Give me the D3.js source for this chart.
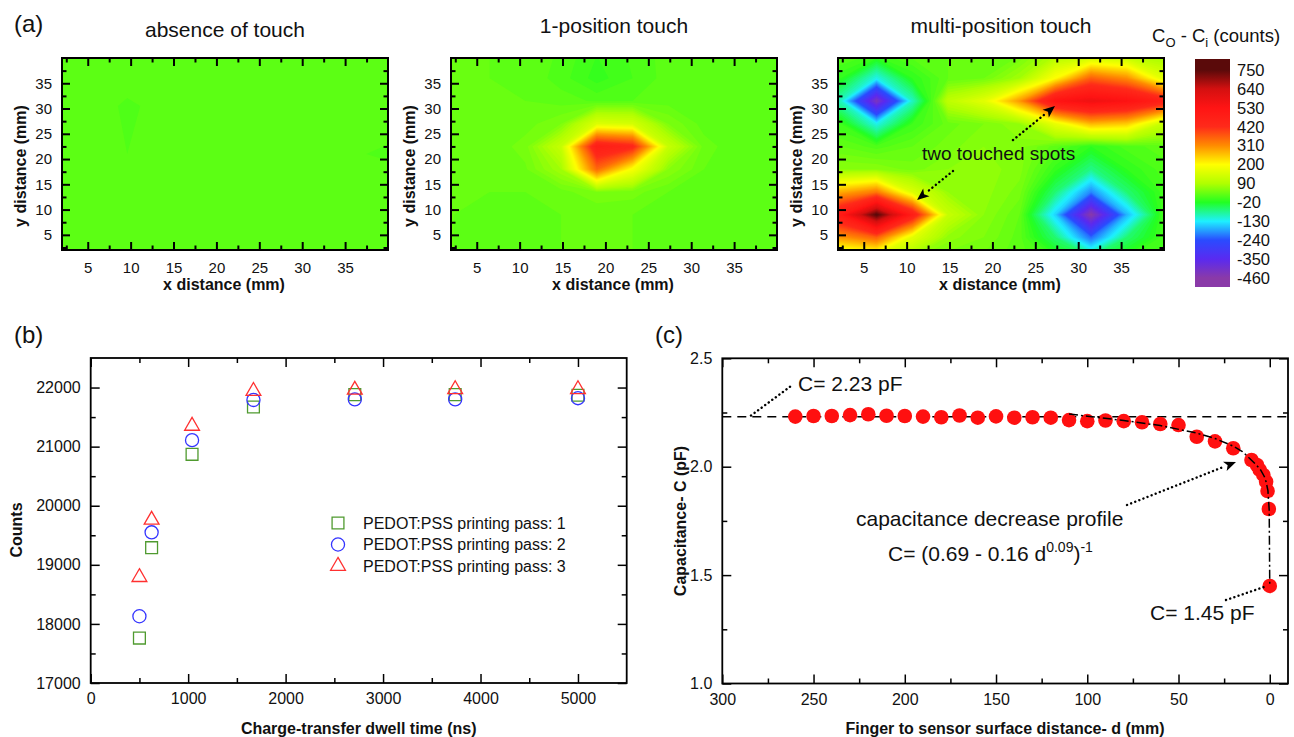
<!DOCTYPE html>
<html>
<head>
<meta charset="utf-8">
<script src="https://cdn.jsdelivr.net/npm/d3@7/dist/d3.min.js"></script>
<style>
  body { margin: 0; background: #fff; }
  svg text { font-family: Arial, "Liberation Sans", Helvetica, sans-serif; fill: #111; }
  .lab { font-weight: bold; font-size: 16px; }
</style>
</head>
<body>
<script>
// ---------------- data ----------------
// colour scale of the contour maps (counts)
var colorLevels = [-460, -350, -240, -130, -20, 90, 200, 310, 420, 530, 640, 750];
var colorHex = ['#8a3aa8', '#5a2af0', '#2a4bff', '#1ef0ff', '#22ff22', '#b0ff00',
                '#ffff00', '#ff8c00', '#ff2a1a', '#ff1414', '#d41010', '#5a0a0a'];

// sensor grid (mm), rows listed from top to bottom
var gridX = [2.33, 6.5, 10.67, 14.83, 19, 23.17, 27.33, 31.5, 35.67, 39.83];
var gridY = [40.5, 36, 31.5, 27, 22.5, 18, 13.5, 9, 4.5, 0];
var absX = [2, 9.6, 17.2, 24.8, 32.4, 40];
var absY = [40, 30.5, 21, 11.5, 2];

var absenceGrid = [
  [28, 25, 28, 30, 26, 28],
  [26, 19, 24, 26, 21, 24],
  [28, 20, 24, 26, 22, 19],
  [28, 26, 30, 20, 24, 26],
  [28, 28, 30, 24, 28, 28]
];

var onePositionGrid = [
  [30, 30, 28, 18, 0, 12, 25, 25, 22, 22],
  [30, 30, 28, 15, -5, 10, 25, 25, 22, 20],
  [30, 30, 30, 25, 18, 20, 25, 25, 22, 20],
  [30, 30, 35, 50, 150, 140, 50, 25, 22, 20],
  [30, 32, 45, 120, 480, 440, 120, 35, 22, 20],
  [30, 30, 38, 80, 350, 190, 60, 30, 22, 20],
  [30, 30, 30, 35, 50, 45, 30, 25, 22, 20],
  [30, 28, 28, 30, 30, 30, 28, 25, 22, 20],
  [30, 28, 28, 30, 30, 30, 25, 22, 22, 20],
  [30, 28, 28, 30, 30, 30, 25, 22, 22, 20]
];

var multiPositionGrid = [
  [25, 5, 25, 30, 30, 40, 90, 110, 100, 70],
  [-10, -120, -10, 30, 40, 80, 200, 360, 310, 160],
  [-100, -430, -100, 110, 160, 300, 530, 570, 540, 470],
  [0, -120, 0, 35, 50, 70, 170, 270, 250, 120],
  [30, 15, 30, 45, 60, 55, 25, -10, 15, 25],
  [60, 60, 45, 60, 65, 55, -5, -70, -10, 15],
  [280, 330, 150, 70, 65, 45, -60, -200, -60, 5],
  [500, 760, 480, 120, 60, 30, -150, -460, -170, 5],
  [300, 360, 160, 65, 50, 25, -60, -220, -60, 5],
  [100, 100, 60, 40, 35, 25, 5, -30, 5, 15]
];
var colorbarTicks = [750, 640, 530, 420, 310, 200, 90, -20, -130, -240, -350, -460];

// panel (b)
var dwellTime = [500, 625, 1040, 1670, 2710, 3740, 5000];
var pass1 = [17760, 19290, 20870, 21670, 21880, 21880, 21870];
var pass2 = [18130, 19550, 21110, 21790, 21800, 21800, 21820];
var pass3 = [18790, 19760, 21350, 21940, 21960, 21970, 21970];

// panel (c)
var fingerDist = [260, 250, 240, 230, 220, 210, 200, 190, 180, 170, 160, 150, 140, 130, 120,
                  110, 100, 90, 80, 70, 60, 50, 40, 30, 20, 10, 7, 5.5, 3.5, 2, 1.2, 0.5, 0];
var capacitance = [2.231, 2.234, 2.234, 2.238, 2.242, 2.235, 2.234, 2.231, 2.228, 2.236, 2.226, 2.232, 2.226, 2.228, 2.226,
                   2.215, 2.21, 2.213, 2.21, 2.205, 2.197, 2.192, 2.138, 2.117, 2.085, 2.031, 2.008, 1.985, 1.962, 1.931, 1.888, 1.805, 1.45];
var fitDist = [110, 100, 80, 60, 40, 30, 20, 15, 10, 7, 5, 3, 2, 1, 0.3, 0];
var fitCap = [2.243, 2.233, 2.213, 2.19, 2.155, 2.13, 2.095, 2.07, 2.03, 2.005, 1.985, 1.955, 1.93, 1.89, 1.8, 1.45];
var refCap = 2.23;

// ---------------- svg ----------------
var svg = d3.select('body').append('svg')
    .attr('width', 1294)
    .attr('height', 737);
svg.append('rect').attr('width', 1294).attr('height', 737).attr('fill', '#fff');
var defs = svg.append('defs');

var color = d3.scaleLinear().domain(colorLevels).range(colorHex).clamp(true);
var levels = d3.range(-470, 780, 10);

// ticks on all four sides, pointing inwards
function frame(x, y, o) {
    var g = svg.append('g');
    var left = x.range()[0], right = x.range()[1], bottom = y.range()[0], top = y.range()[1];
    var sides = [
        [d3.axisBottom, x, 0, bottom, o.xMajor, o.xMinor, o.fmtX, o.padX],
        [d3.axisTop, x, 0, top, o.xMajor, o.xMinor, null, 0],
        [d3.axisLeft, y, left, 0, o.yMajor, o.yMinor, o.fmtY, o.padY],
        [d3.axisRight, y, right, 0, o.yMajor, o.yMinor, null, 0]
    ];
    sides.forEach(function (s) {
        [[s[4], o.major, s[6]], [s[5], o.minor, null]].forEach(function (t) {
            var a = g.append('g')
                .attr('transform', 'translate(' + s[2] + ',' + s[3] + ')')
                .call(s[0](s[1]).tickValues(t[0]).tickSize(-t[1]).tickPadding(s[7])
                    .tickFormat(t[2] || function () { return ''; }));
            a.select('.domain').remove();
            a.attr('font-size', o.fs);
            a.selectAll('line').attr('stroke-width', o.tw).attr('stroke', '#000');
        });
    });
    g.append('rect')
        .attr('x', left).attr('y', top)
        .attr('width', right - left).attr('height', bottom - top)
        .attr('fill', 'none').attr('stroke', '#000').attr('stroke-width', o.fw);
}

///////////////////////////////////////////////////////////////
// (a) contour maps
///////////////////////////////////////////////////////////////
var heatMajor = [5, 10, 15, 20, 25, 30, 35];
var heatMinor = [2.5, 7.5, 12.5, 17.5, 22.5, 27.5, 32.5, 37.5];

function heatPanel(left, cols, rows, grid, title, titleY) {
    var x = d3.scaleLinear().domain([2, 40]).range([left, left + 326]);
    var y = d3.scaleLinear().domain([2, 40]).range([250, 58]);
    var nx = cols.length, ny = rows.length;
    var sx = (cols[nx - 1] - cols[0]) / (nx - 1);
    var sy = (rows[0] - rows[ny - 1]) / (ny - 1);
    var id = 'clip' + Math.round(left);

    defs.append('clipPath').attr('id', id).append('rect')
        .attr('x', left).attr('y', 58).attr('width', 326).attr('height', 192);

    var proj = d3.geoTransform({
        point: function (cx, cy) {
            this.stream.point(x(cols[0] + (cx - 0.5) * sx), y(rows[0] - (cy - 0.5) * sy));
        }
    });
    var bands = d3.contours().size([nx, ny]).thresholds(levels)([].concat.apply([], grid));

    svg.append('g').attr('clip-path', 'url(#' + id + ')')
        .selectAll('path')
        .data(bands)
        .join('path')
        .attr('d', d3.geoPath(proj))
        .attr('fill', function (d) { return color(d.value + 5); });

    frame(x, y, {
        xMajor: heatMajor, xMinor: heatMinor, yMajor: heatMajor, yMinor: heatMinor,
        fmtX: d3.format('d'), fmtY: d3.format('d'),
        major: 8, minor: 4.5, tw: 2, fw: 2, fs: 15, padX: 12, padY: 10
    });

    svg.append('text')
        .attr('x', left + 163).attr('y', titleY)
        .attr('text-anchor', 'middle').attr('font-size', 21)
        .text(title);
    svg.append('text')
        .attr('class', 'lab')
        .attr('x', left + 162).attr('y', 290)
        .attr('text-anchor', 'middle')
        .text('x distance (mm)');
    svg.append('text')
        .attr('class', 'lab')
        .attr('transform', 'translate(' + (left - 42) + ',166) rotate(-90)')
        .attr('text-anchor', 'middle').attr('dy', '0.35em')
        .text('y distance (mm)');
}

heatPanel(62, absX, absY, absenceGrid, 'absence of touch', 37);
heatPanel(451, gridX, gridY, onePositionGrid, '1-position touch', 33);
heatPanel(838, gridX, gridY, multiPositionGrid, 'multi-position touch', 33);

// colour bar
var cb = d3.scaleLinear().domain([-460, 750]).range([278, 70]);
var grad = defs.append('linearGradient').attr('id', 'cbar')
    .attr('x1', 0).attr('x2', 0).attr('y1', 0).attr('y2', 1);
grad.selectAll('stop')
    .data(colorLevels.slice().reverse())
    .join('stop')
    .attr('offset', function (d) { return (cb(d) - 59) / 228; })
    .attr('stop-color', function (d) { return color(d); });
svg.append('rect')
    .attr('x', 1195).attr('y', 59).attr('width', 35).attr('height', 228)
    .attr('fill', 'url(#cbar)');
svg.append('g').selectAll('text')
    .data(colorbarTicks)
    .join('text')
    .attr('x', 1237).attr('y', function (d) { return cb(d); })
    .attr('dy', '0.35em').attr('font-size', 16.5)
    .text(function (d) { return d; });

var cbt = svg.append('text').attr('x', 1152).attr('y', 42).attr('font-size', 18.5);
cbt.append('tspan').text('C');
cbt.append('tspan').attr('dy', 5).attr('font-size', 13).text('O');
cbt.append('tspan').attr('dy', -5).text(' - C');
cbt.append('tspan').attr('dy', 5).attr('font-size', 13).text('i');
cbt.append('tspan').attr('dy', -5).text(' (counts)');

// dotted annotation arrows
function dotArrow(x1, y1, x2, y2, head) {
    var ang = Math.atan2(y2 - y1, x2 - x1), L = head ? 12 : 0, w = 5;
    var bx = x2 - L * Math.cos(ang), by = y2 - L * Math.sin(ang);
    svg.append('line')
        .attr('x1', x1).attr('y1', y1).attr('x2', bx).attr('y2', by)
        .attr('stroke', '#000').attr('stroke-width', 2.4)
        .attr('stroke-linecap', 'round').attr('stroke-dasharray', '0.1,4.3');
    if (head) {
        svg.append('path')
            .attr('d', 'M' + x2 + ',' + y2 +
                'L' + (bx + w * Math.sin(ang)) + ',' + (by - w * Math.cos(ang)) +
                'L' + (bx + 3 * Math.cos(ang)) + ',' + (by + 3 * Math.sin(ang)) +
                'L' + (bx - w * Math.sin(ang)) + ',' + (by + w * Math.cos(ang)) + 'Z')
            .attr('fill', '#000');
    }
}

svg.append('text').attr('x', 922).attr('y', 160).attr('font-size', 19).text('two touched spots');
dotArrow(1013, 140, 1055, 106, true);
dotArrow(953, 171, 917, 200, true);

svg.append('text').attr('x', 14).attr('y', 32).attr('font-size', 24).text('(a)');
svg.append('text').attr('x', 14).attr('y', 343).attr('font-size', 24).text('(b)');
svg.append('text').attr('x', 655).attr('y', 343).attr('font-size', 24).text('(c)');

///////////////////////////////////////////////////////////////
// (b) counts vs dwell time
///////////////////////////////////////////////////////////////
var xB = d3.scaleLinear().domain([0, 5500]).range([90.7, 626.7]);
var yB = d3.scaleLinear().domain([17000, 22500]).range([683, 358]);

frame(xB, yB, {
    xMajor: [0, 1000, 2000, 3000, 4000, 5000], xMinor: [500, 1500, 2500, 3500, 4500],
    yMajor: [17000, 18000, 19000, 20000, 21000, 22000],
    yMinor: [17500, 18500, 19500, 20500, 21500],
    fmtX: d3.format('d'), fmtY: d3.format('d'),
    major: 9, minor: 5, tw: 1.5, fw: 1.8, fs: 16, padX: 10, padY: 10
});

var series = [
    { vals: pass1, sym: d3.symbolSquare, size: 140, col: '#4f9a2f', name: 'PEDOT:PSS printing pass: 1' },
    { vals: pass2, sym: d3.symbolCircle, size: 135, col: '#3434ff', name: 'PEDOT:PSS printing pass: 2' },
    { vals: pass3, sym: d3.symbolTriangle, size: 95, col: '#ff3030', name: 'PEDOT:PSS printing pass: 3' }
];

series.forEach(function (s, k) {
    svg.append('g').selectAll('path')
        .data(s.vals)
        .join('path')
        .attr('transform', function (d, i) { return 'translate(' + xB(dwellTime[i]) + ',' + yB(d) + ')'; })
        .attr('d', d3.symbol(s.sym, s.size))
        .attr('fill', 'none').attr('stroke', s.col).attr('stroke-width', 1.3);

    var ly = 523 + k * 21.5;
    svg.append('path')
        .attr('transform', 'translate(338,' + ly + ')')
        .attr('d', d3.symbol(s.sym, s.size))
        .attr('fill', 'none').attr('stroke', s.col).attr('stroke-width', 1.3);
    svg.append('text')
        .attr('x', 363).attr('y', ly).attr('dy', '0.35em')
        .attr('font-size', 16)
        .text(s.name);
});

svg.append('text').attr('class', 'lab')
    .attr('x', 358.7).attr('y', 734).attr('text-anchor', 'middle')
    .text('Charge-transfer dwell time (ns)');
svg.append('text').attr('class', 'lab')
    .attr('transform', 'translate(16,530) rotate(-90)')
    .attr('text-anchor', 'middle').attr('dy', '0.35em')
    .text('Counts');

///////////////////////////////////////////////////////////////
// (c) capacitance vs distance
///////////////////////////////////////////////////////////////
var xC = d3.scaleLinear().domain([300, -10]).range([722.3, 1288]);
var yC = d3.scaleLinear().domain([1, 2.5]).range([683.5, 358.3]);

frame(xC, yC, {
    xMajor: [300, 250, 200, 150, 100, 50, 0], xMinor: [275, 225, 175, 125, 75, 25],
    yMajor: [1, 1.5, 2, 2.5], yMinor: [1.25, 1.75, 2.25],
    fmtX: d3.format('d'), fmtY: d3.format('.1f'),
    major: 9, minor: 5, tw: 1.5, fw: 1.8, fs: 16, padX: 10, padY: 10
});

svg.append('line')
    .attr('x1', xC(300)).attr('x2', xC(-10))
    .attr('y1', yC(refCap)).attr('y2', yC(refCap))
    .attr('stroke', '#000').attr('stroke-width', 1.5).attr('stroke-dasharray', '9,6');

svg.append('g').selectAll('circle')
    .data(fingerDist)
    .join('circle')
    .attr('cx', function (d) { return xC(d); })
    .attr('cy', function (d, i) { return yC(capacitance[i]); })
    .attr('r', 7.3)
    .attr('fill', '#ff1010');

svg.append('path')
    .datum(fitDist)
    .attr('d', d3.line().x(function (d) { return xC(d); }).y(function (d, i) { return yC(fitCap[i]); }))
    .attr('fill', 'none').attr('stroke', '#000').attr('stroke-width', 1.5)
    .attr('stroke-dasharray', '9,3,2,3');

svg.append('text').attr('x', 798).attr('y', 391).attr('font-size', 21).text('C= 2.23 pF');
dotArrow(751, 415.5, 791, 386, false);

svg.append('text').attr('x', 856).attr('y', 526).attr('font-size', 21).text('capacitance decrease profile');
var ft = svg.append('text').attr('x', 888).attr('y', 561).attr('font-size', 21);
ft.append('tspan').text('C= (0.69 - 0.16 d');
ft.append('tspan').attr('dy', -9).attr('font-size', 14).text('0.09');
ft.append('tspan').attr('dy', 9).text(')');
ft.append('tspan').attr('dy', -9).attr('font-size', 14).text('-1');
dotArrow(1127, 505, 1236, 462, true);

svg.append('text').attr('x', 1150).attr('y', 620).attr('font-size', 21).text('C= 1.45 pF');
dotArrow(1226, 600, 1264, 587, false);

svg.append('text').attr('class', 'lab')
    .attr('x', 1005).attr('y', 734).attr('text-anchor', 'middle')
    .text('Finger to sensor surface distance- d (mm)');
svg.append('text').attr('class', 'lab')
    .attr('transform', 'translate(680,521) rotate(-90)')
    .attr('text-anchor', 'middle').attr('dy', '0.35em')
    .text('Capacitance- C (pF)');
</script>
</body>
</html>
